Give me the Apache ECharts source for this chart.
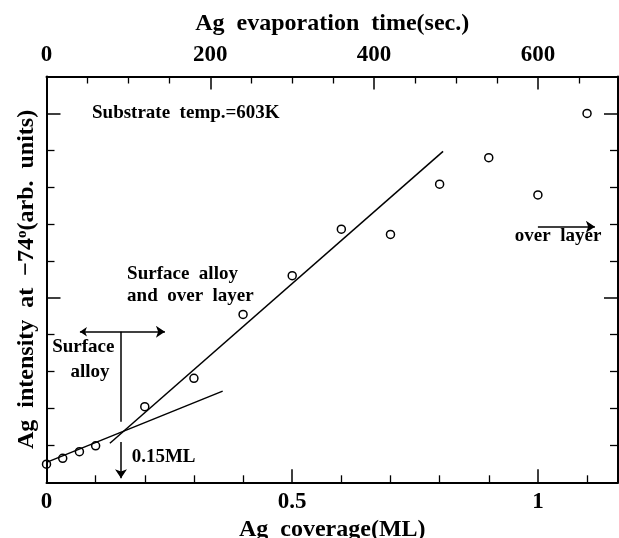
<!DOCTYPE html>
<html>
<head>
<meta charset="utf-8">
<script src="https://cdn.jsdelivr.net/npm/echarts@6/dist/echarts.min.js"></script>
<style>
html,body{margin:0;padding:0;background:#fff;}
#chart{width:619px;height:538px;}
</style>
</head>
<body>
<div id="chart"></div>
<script>
// ---- data ----
var coverage = [0, 0.033, 0.067, 0.1, 0.2, 0.3, 0.4, 0.5, 0.6, 0.7, 0.8, 0.9, 1.0, 1.1];       // ML
var intensity = [0.49, 0.65, 0.83, 0.99, 2.05, 2.82, 4.55, 5.60, 6.86, 6.72, 8.08, 8.80, 7.79, 10.0]; // arb. units
var fitAlloyX = [0, 0.3585];
var fitAlloyY = [0.54, 2.47];
var fitOverX = [0.129, 0.807];
var fitOverY = [1.06, 8.97];
var bottomTickValues = [0, 0.5, 1];
var bottomTickLabels = ['0', '0.5', '1'];
var topTickValues = [0, 200, 400, 600];
var topTickLabels = ['0', '200', '400', '600'];
var secPerML = 600;

// annotation positions in data units (coverage ML, intensity)
var arrowHoriz = [[0.068, 4.08], [0.241, 4.08]];
var arrowVertTop = [[0.1516, 4.08], [0.1516, 1.64]];
var arrowVertBot = [[0.1516, 1.09], [0.1516, 0.11]];
var arrowOver = [[1.0, 6.93], [1.116, 6.93]];
var notes = [
  {text: 'Substrate  temp.=603K', x: 0.0926, y: 10.02, align: 'left'},
  {text: 'Surface  alloy', x: 0.164, y: 5.645, align: 'left'},
  {text: 'and  over  layer', x: 0.164, y: 5.057, align: 'left'},
  {text: 'Surface', x: 0.0749, y: 3.675, align: 'center'},
  {text: 'alloy', x: 0.0885, y: 2.997, align: 'center'},
  {text: '0.15ML', x: 0.1733, y: 0.675, align: 'left'},
  {text: 'over  layer', x: 0.953, y: 6.675, align: 'left'}
];

var xMax = 1.163;
var yMax = 11;
var FONT = 'Liberation Serif';

function pairs(xs, ys) { return xs.map(function (x, i) { return [x, ys[i]]; }); }
function fmt(vals, labels) {
  return function (v) {
    for (var i = 0; i < vals.length; i++) if (Math.abs(v - vals[i]) < 1e-6) return labels[i];
    return '';
  };
}

var axisLineStyle = {color: '#000', width: 2};
var chart = echarts.init(document.getElementById('chart'), null, {renderer: 'canvas'});
var option = {
  animation: false,
  backgroundColor: '#fff',
  grid: {left: 46.5, right: 1, top: 76.5, bottom: 55.7, containLabel: false, outerBoundsMode: 'none'},
  xAxis: [
    {
      type: 'value', position: 'bottom', min: 0, max: xMax, interval: 0.5,
      axisLine: {show: true, onZero: false, lineStyle: axisLineStyle},
      axisTick: {show: true, inside: true, length: 13, lineStyle: {color: '#000', width: 1.5}},
      minorTick: {show: true, splitNumber: 5, length: 7, lineStyle: {color: '#000', width: 1.3}},
      splitLine: {show: false},
      axisLabel: {show: true, margin: 8, color: '#000', fontFamily: FONT, fontWeight: 'bold', fontSize: 23,
        showMaxLabel: false, formatter: fmt(bottomTickValues, bottomTickLabels)},
      name: 'Ag  coverage(ML)', nameLocation: 'middle', nameGap: 33,
      nameTextStyle: {color: '#000', fontFamily: FONT, fontWeight: 'bold', fontSize: 24}
    },
    {
      type: 'value', position: 'top', min: 0, max: xMax * secPerML, interval: 200,
      axisLine: {show: true, onZero: false, lineStyle: axisLineStyle},
      axisTick: {show: true, inside: true, length: 13, lineStyle: {color: '#000', width: 1.5}},
      minorTick: {show: true, splitNumber: 4, length: 7, lineStyle: {color: '#000', width: 1.3}},
      splitLine: {show: false},
      axisLabel: {show: true, margin: 10, color: '#000', fontFamily: FONT, fontWeight: 'bold', fontSize: 23,
        showMaxLabel: false, formatter: fmt(topTickValues, topTickLabels)},
      name: 'Ag  evaporation  time(sec.)', nameLocation: 'middle', nameGap: 41,
      nameTextStyle: {color: '#000', fontFamily: FONT, fontWeight: 'bold', fontSize: 24}
    }
  ],
  yAxis: [
    {
      type: 'value', position: 'left', min: 0, max: yMax, interval: 5,
      axisLine: {show: true, onZero: false, lineStyle: axisLineStyle},
      axisTick: {show: true, inside: true, length: 14, lineStyle: {color: '#000', width: 1.5}},
      minorTick: {show: true, splitNumber: 5, length: 8, lineStyle: {color: '#000', width: 1.3}},
      splitLine: {show: false},
      axisLabel: {show: false},
      name: 'Ag  intensity  at  \u221274{sup|o}(arb.  units)', nameLocation: 'middle', nameGap: 8,
      nameTextStyle: {color: '#000', fontFamily: FONT, fontWeight: 'bold', fontSize: 24,
        rich: {sup: {fontFamily: FONT, fontWeight: 'bold', fontSize: 15, color: '#000', verticalAlign: 'top', padding: [0, 0, 9, 0]}}}
    },
    {
      type: 'value', position: 'right', min: 0, max: yMax, interval: 5,
      axisLine: {show: true, onZero: false, lineStyle: axisLineStyle},
      axisTick: {show: true, inside: true, length: 14, lineStyle: {color: '#000', width: 1.5}},
      minorTick: {show: true, splitNumber: 5, length: 8, lineStyle: {color: '#000', width: 1.3}},
      splitLine: {show: false},
      axisLabel: {show: false}
    }
  ],
  series: [
    {
      type: 'line', xAxisIndex: 0, yAxisIndex: 0, data: pairs(fitAlloyX, fitAlloyY),
      showSymbol: false, symbol: 'none', lineStyle: {color: '#000', width: 1.5}, silent: true, z: 2
    },
    {
      type: 'line', xAxisIndex: 0, yAxisIndex: 0, data: pairs(fitOverX, fitOverY),
      showSymbol: false, symbol: 'none', lineStyle: {color: '#000', width: 1.5}, silent: true, z: 2
    },
    {
      type: 'scatter', xAxisIndex: 0, yAxisIndex: 0, data: pairs(coverage, intensity),
      symbol: 'circle', symbolSize: 8, clip: false,
      itemStyle: {color: 'rgba(255,255,255,0)', borderColor: '#000', borderWidth: 1.5, opacity: 1}, z: 3
    },
    {
      type: 'lines', coordinateSystem: 'cartesian2d', xAxisIndex: 0, yAxisIndex: 0, silent: true,
      symbol: ['arrow', 'arrow'], symbolSize: [7, 9],
      lineStyle: {color: '#000', width: 1.5, opacity: 1},
      data: [{coords: arrowHoriz}], z: 4
    },
    {
      type: 'lines', coordinateSystem: 'cartesian2d', xAxisIndex: 0, yAxisIndex: 0, silent: true,
      symbol: ['none', 'none'],
      lineStyle: {color: '#000', width: 1.5, opacity: 1},
      data: [{coords: arrowVertTop}], z: 4
    },
    {
      type: 'lines', coordinateSystem: 'cartesian2d', xAxisIndex: 0, yAxisIndex: 0, silent: true,
      symbol: ['none', 'arrow'], symbolSize: [7, 9],
      lineStyle: {color: '#000', width: 1.5, opacity: 1},
      data: [{coords: arrowVertBot}, {coords: arrowOver}], z: 4
    },
    {
      type: 'scatter', xAxisIndex: 0, yAxisIndex: 0, symbolSize: 0, silent: true, clip: false,
      itemStyle: {opacity: 1},
      data: notes.map(function (n) {
        return {
          value: [n.x, n.y], name: n.text,
          label: {show: true, position: [0, 0], align: n.align, verticalAlign: 'middle', opacity: 1,
            formatter: n.text, color: '#000', fontFamily: FONT, fontWeight: 'bold', fontSize: 19}
        };
      }),
      z: 5
    }
  ]
};
chart.setOption(option);
</script>
</body>
</html>
